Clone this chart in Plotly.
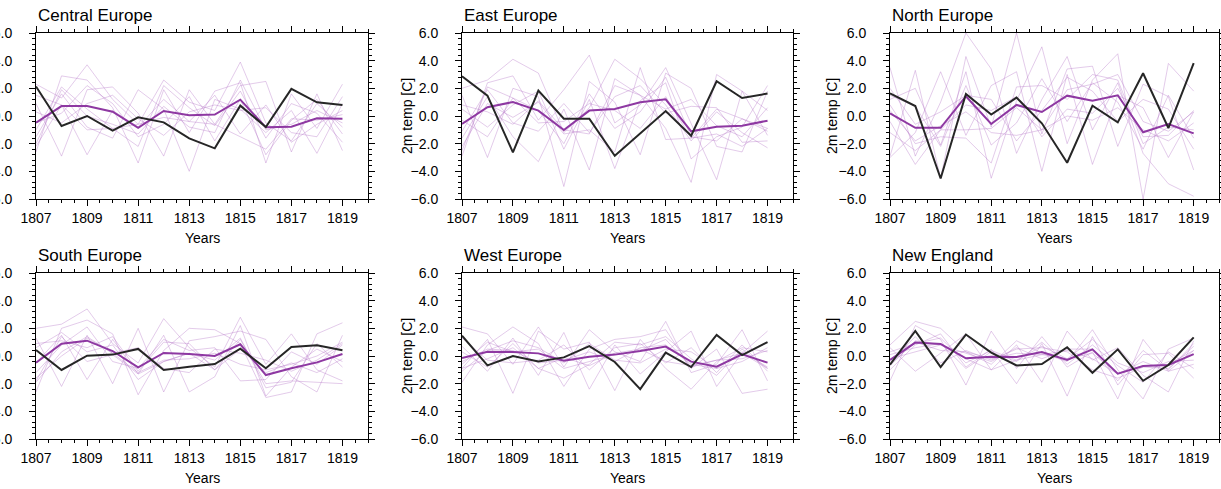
import plotly.graph_objects as go

years = list(range(1807, 1820))
region_names = ["Central Europe", "East Europe", "North Europe",
                "South Europe", "West Europe", "New England"]

# ---------------- Central Europe ----------------
ce_obs = [2.13, -0.72, 0.0, -1.06, -0.1, -0.46, -1.62, -2.34, 0.75, -0.8, 1.96, 0.99, 0.8]
ce_mean = [-0.48, 0.72, 0.72, 0.31, -0.85, 0.36, 0.05, 0.1, 1.18, -0.82, -0.77, -0.17, -0.19]
ce_members = [
    [2.3, 1.3, 3.7, 1.2, -0.6, 2.6, 1.0, 0.4, 3.9, -0.5, -1.8, 0.9, -0.8],
    [-2.6, 2.9, 2.6, 0.6, -3.4, 1.9, -1.2, 1.8, 2.4, -3.4, 1.6, -0.9, 2.3],
    [0.9, -2.9, 1.9, 2.1, 0.2, -2.9, 1.9, -0.6, 2.2, 2.5, -2.6, 1.6, -2.5],
    [-1.5, 1.6, -0.8, -1.6, 1.9, 0.5, -4.0, 1.2, 0.5, -1.2, 0.4, -2.7, 0.9],
    [-0.5, 0.2, 2.2, 0.9, -1.5, -0.6, 1.4, -1.8, 1.2, -2.8, -0.3, 1.2, -1.3],
    [1.5, 0.8, -2.8, 0.4, -0.8, 1.2, -0.4, 1.5, -1.3, 0.8, -1.9, -0.6, 0.4],
    [-1.0, 2.1, 0.5, -0.9, -2.2, 2.2, 0.6, -0.7, 1.8, -1.6, 0.9, 0.2, -1.9],
    [0.3, -0.5, 0.9, 1.5, -0.2, -1.4, 0.3, 0.8, 0.4, 0.6, -1.2, -1.5, 1.4],
    [-2.0, 1.9, 0.0, -0.6, -1.3, 0.7, -0.8, -1.2, 2.6, -1.0, -0.6, 0.4, -0.5],
    [-2.2, 0.8, -1.0, -0.9, -0.6, -0.1, -0.4, -0.6, -1.5, -2.4, -0.2, -0.3, 0.1],
]

# ---------------- East Europe ----------------
ee_obs = [2.87, 1.47, -2.63, 1.84, -0.19, -0.19, -2.87, -1.25, 0.36, -1.43, 2.51, 1.3, 1.62]
ee_mean = [-0.58, 0.63, 1.01, 0.39, -1.01, 0.39, 0.5, 0.99, 1.21, -1.11, -0.77, -0.7, -0.34]
ee_members = [
    [2.0, 2.6, 4.1, 3.1, -1.2, 0.6, 4.1, 2.7, 0.8, -1.8, 0.3, -1.2, -2.3],
    [-2.9, 2.4, 2.9, -0.3, 1.9, 4.4, -0.5, 0.8, 3.5, -0.6, -4.6, 1.8, 0.4],
    [1.5, -3.0, 2.0, 1.4, -5.1, 2.5, 1.0, -2.8, 3.1, 2.0, -2.2, -2.6, 1.8],
    [-1.6, 1.4, -1.5, -3.3, 0.5, -3.9, 2.7, 1.5, -0.9, -4.8, 3.0, 1.8, -1.4],
    [0.5, -0.8, 0.8, 1.8, -2.4, 1.2, -3.8, 1.1, 2.4, -3.1, -1.5, -0.8, 2.2],
    [-1.1, 1.9, -0.5, -1.1, 0.9, -1.2, 1.4, 2.2, 0.2, 0.7, 0.6, -1.9, -1.8],
    [-0.3, -1.5, 1.3, 0.4, -2.0, 1.6, -0.9, 0.3, 2.8, -1.5, -1.8, -0.2, -0.9],
    [0.8, 0.3, -0.6, 1.1, -1.0, -1.3, 2.2, 1.5, 0.5, 1.2, -0.7, -1.5, 0.6],
    [-2.5, 2.1, 1.3, -0.5, -0.4, 0.9, 0.4, -0.9, 1.4, -1.6, 0.5, -0.2, -1.1],
    [-2.2, 0.9, -0.1, 1.0, -1.3, -1.0, -2.6, 3.5, -1.7, -1.6, -1.3, -2.2, -0.9],
]

# ---------------- North Europe ----------------
ne_obs = [1.64, 0.72, -4.52, 1.59, 0.1, 1.33, -0.53, -3.38, 0.75, -0.46, 3.09, -0.87, 3.82]
ne_mean = [0.19, -0.85, -0.85, 1.43, -0.58, 0.8, 0.29, 1.47, 1.11, 1.5, -1.18, -0.58, -1.26]
ne_members = [
    [3.5, -2.9, 1.0, 6.0, 3.4, -2.7, 1.2, 4.3, -1.0, 2.4, -2.7, -4.9, -5.8],
    [-2.9, 3.3, -4.5, 4.3, -0.8, 6.0, -1.3, 3.4, 3.6, -2.2, 2.3, 1.4, -3.9],
    [1.2, 2.0, -2.1, 3.2, -4.5, 1.1, 5.0, -2.0, 2.6, 4.5, -6.0, 3.8, 1.8],
    [-3.0, -1.2, 3.2, -1.4, 2.2, 3.2, -4.0, 3.0, -3.5, 1.5, 0.6, -3.0, 0.3],
    [0.8, -2.0, -1.5, -1.6, -3.4, 2.1, 2.2, 1.2, 3.0, 2.6, -2.0, -0.8, -1.0],
    [2.0, -0.6, 0.3, 1.5, 1.2, -1.8, 0.4, 2.8, 1.8, -0.4, 1.2, 0.5, -2.4],
    [-1.2, -2.5, -1.0, 0.8, 0.4, 1.4, -1.5, 0.5, 0.2, 2.0, -1.5, -1.4, 0.4],
    [1.5, 0.7, -2.2, 2.2, -2.1, -0.5, 2.7, -0.4, 2.4, 1.0, -2.4, 1.5, -1.6],
    [0.4, -1.8, -0.7, 0.3, -1.2, -1.4, -1.0, 1.9, 2.3, 3.0, -0.4, -1.1, 0.3],
    [-0.4, -3.5, -1.0, -1.0, -0.9, 0.6, -1.0, 0.0, -0.3, 0.6, -1.0, -1.8, -0.5],
]

# ---------------- South Europe ----------------
se_obs = [0.43, -1.01, 0.02, 0.1, 0.51, -1.01, -0.77, -0.58, 0.53, -0.89, 0.65, 0.77, 0.41]
se_mean = [-0.48, 0.89, 1.11, 0.36, -0.82, 0.22, 0.14, 0.0, 0.85, -1.38, -0.89, -0.46, 0.14]
se_members = [
    [2.0, 2.3, 3.4, 0.9, -0.5, 2.7, 0.6, -0.8, 2.8, -0.6, 1.6, -1.0, -1.8],
    [-2.6, 2.0, 2.6, 1.6, -2.8, 0.4, 2.0, 1.9, 0.9, -3.0, -2.6, 1.6, 2.4],
    [1.3, -2.2, 1.5, -2.0, 2.0, -2.6, 1.1, 1.4, 1.8, 1.2, -1.5, -2.6, 1.5],
    [-0.5, 1.5, -1.7, 1.2, -1.3, 1.5, -2.6, -1.5, 2.2, -2.9, -0.8, 0.5, -0.4],
    [-1.2, 0.8, 2.1, -0.4, -0.9, 1.2, 0.4, 0.6, -1.8, -1.7, 0.3, -0.6, 0.8],
    [0.6, 1.7, 0.3, 0.8, -1.7, -0.4, 0.2, -0.3, 1.3, -2.3, -1.9, 0.9, -0.8],
    [-1.9, 0.3, 1.4, 0.2, 0.6, -0.9, -1.2, 0.5, 0.2, -0.3, -1.1, -0.3, 0.9],
    [0.9, 1.1, 0.6, 1.4, -1.1, 1.0, 0.9, -1.0, 0.5, -1.2, -0.5, -1.2, -0.2],
    [-1.6, 0.0, 1.3, 0.2, -1.2, -0.3, -0.2, 0.2, -0.6, -1.0, -0.6, 0.0, 1.0],
    [-1.8, 1.4, -0.4, 0.1, -1.3, -0.4, 0.2, -1.0, 1.2, -2.0, -1.8, -1.9, -2.0],
]

# ---------------- West Europe ----------------
we_obs = [1.47, -0.68, 0.0, -0.39, -0.1, 0.72, -0.43, -2.39, 0.24, -0.8, 1.52, 0.07, 1.01]
we_mean = [-0.14, 0.31, 0.29, 0.19, -0.34, -0.05, 0.1, 0.36, 0.68, -0.41, -0.77, 0.12, -0.48]
we_members = [
    [2.1, 1.6, -0.6, 2.1, -0.8, 1.9, 0.3, -0.4, 2.5, -1.2, -0.6, 1.9, -1.8],
    [-1.9, 0.8, 2.1, 0.9, -2.2, 0.5, 1.2, 1.4, 1.9, -0.9, 0.5, -2.7, -2.4],
    [0.7, -1.1, 1.3, -1.4, 1.7, -2.4, 0.8, -1.3, 0.3, 1.8, -2.2, 0.2, 1.8],
    [-0.9, 1.2, -2.7, 1.8, 0.5, 1.0, -2.5, 1.2, -0.9, -2.4, -0.4, 0.6, 0.3],
    [0.3, -0.8, 0.9, -0.9, -1.6, -0.6, 1.0, 0.8, 1.4, -0.2, -1.4, 0.5, -0.9],
    [-1.1, 0.4, 1.1, 0.6, -0.5, 0.9, -0.3, -0.5, 0.5, 0.3, -0.9, -0.4, 0.6],
    [1.3, -0.3, -0.5, -0.3, 0.8, -1.0, 0.6, 0.9, -0.5, 0.6, -1.2, 0.8, -1.1],
    [-0.6, 1.0, 0.3, 0.5, -0.9, -0.4, 0.1, 0.4, 1.2, -0.8, -0.3, -0.2, 0.4],
    [-0.4, 0.5, 0.4, -0.5, -0.3, 0.3, -0.4, 0.6, 0.8, -0.6, -0.9, 0.3, -0.8],
    [-0.9, -0.2, 0.6, -0.9, -0.1, -0.7, 0.2, 0.5, -0.4, -0.7, -0.3, 0.2, -0.9],
]

# ---------------- New England ----------------
ng_obs = [-0.63, 1.81, -0.8, 1.55, 0.24, -0.68, -0.58, 0.63, -1.21, 0.48, -1.79, -0.65, 1.35]
ng_mean = [-0.29, 0.97, 0.87, -0.17, -0.05, -0.07, 0.29, -0.29, 0.48, -1.28, -0.72, -0.65, 0.14]
ng_members = [
    [0.8, 2.5, 2.0, 0.3, -0.6, 1.1, 0.2, -0.4, 1.9, -1.0, -3.1, 0.5, 1.3],
    [-1.8, 2.2, 1.2, -2.1, 1.8, -0.9, 1.4, -0.8, 0.3, -3.1, 1.2, -1.1, -0.6],
    [0.6, -1.1, 0.2, 1.6, -1.0, 0.8, -1.9, 1.8, -0.3, 0.6, -1.4, -2.6, 1.1],
    [-1.0, 0.8, 1.6, -0.8, 0.5, -2.0, 0.9, -2.9, 1.4, -2.1, 0.1, 0.2, -1.6],
    [-0.4, 1.4, -0.5, 0.4, -0.3, 0.5, 0.6, 0.3, -1.0, -1.6, -0.8, -0.9, 0.7],
    [0.3, 0.9, 1.3, -0.5, 0.4, -0.3, 0.7, -0.2, 1.2, -0.5, -1.2, -0.4, -0.3],
    [-0.7, 1.1, 0.8, 0.2, -0.4, 0.6, -0.2, 0.5, 0.5, -1.8, 0.4, -1.0, 0.9],
    [0.1, 0.6, 0.9, -0.9, 0.3, -0.4, 1.0, -0.6, 0.8, -0.7, -1.9, 0.3, -0.9],
    [-0.6, 1.0, 0.4, 0.3, -0.2, 0.2, 0.1, 0.4, -0.2, -1.3, -0.7, -0.6, 0.4],
    [-0.2, 0.3, 0.8, -0.2, -1.0, -0.3, 0.1, -0.2, 0.2, -1.3, -0.4, -1.1, 0.4],
]

obs_list = [ce_obs, ee_obs, ne_obs, se_obs, we_obs, ng_obs]
mean_list = [ce_mean, ee_mean, ne_mean, se_mean, we_mean, ng_mean]
members_list = [ce_members, ee_members, ne_members, se_members, we_members, ng_members]

x_ticks = years[::2]
y_ticks = [-6, -4, -2, 0, 2, 4, 6]
y_title = "2m temp [C]"
x_title = "Years"

# ---------------- layout geometry (pixels) ----------------
W, H = 1221, 489
col_px = [(36, 368), (462, 793), (890, 1219)]
row_px = [(33, 199), (273, 439)]
title_y_px = [15, 255]
xtitle_y_px = [238, 478]
ytitle_x_px = [-19, 407, 832]

FONT = "Liberation Sans, Arial, Helvetica, sans-serif"
MEMBER_COLOR = "rgba(180,118,200,0.42)"
MEAN_COLOR = "rgb(142,56,162)"
OBS_COLOR = "#262626"

fig = go.Figure()
annotations = []
layout_axes = {}

for i, name in enumerate(region_names):
    r, c = divmod(i, 3)
    n = i + 1
    xref = "x" if n == 1 else f"x{n}"
    yref = "y" if n == 1 else f"y{n}"
    xkey = "xaxis" if n == 1 else f"xaxis{n}"
    ykey = "yaxis" if n == 1 else f"yaxis{n}"

    for mem in members_list[i]:
        fig.add_trace(go.Scatter(x=years, y=mem, mode="lines", xaxis=xref, yaxis=yref,
                                 line=dict(color=MEMBER_COLOR, width=0.9),
                                 showlegend=False, hoverinfo="skip"))
    fig.add_trace(go.Scatter(x=years, y=mean_list[i], mode="lines", xaxis=xref, yaxis=yref,
                             line=dict(color=MEAN_COLOR, width=2), showlegend=False))
    fig.add_trace(go.Scatter(x=years, y=obs_list[i], mode="lines", xaxis=xref, yaxis=yref,
                             line=dict(color=OBS_COLOR, width=2), showlegend=False))

    x0, x1 = col_px[c]
    y0, y1 = row_px[r]
    common = dict(showline=True, linecolor="black", linewidth=1, mirror="ticks",
                  ticks="outside", tickcolor="black", tickwidth=1, ticklen=6,
                  showgrid=False, zeroline=False, automargin=False,
                  tickfont=dict(family=FONT, size=14, color="black"))
    layout_axes[xkey] = dict(common, domain=[x0 / W, x1 / W], range=[1807, 1820],
                             tickvals=x_ticks, anchor=yref,
                             minor=dict(tick0=1807, dtick=0.5, ticks="outside",
                                        ticklen=3, tickcolor="black", tickwidth=1))
    layout_axes[ykey] = dict(common, domain=[1 - y1 / H, 1 - y0 / H], range=[-6, 6],
                             tickvals=y_ticks, tickformat=".1f", anchor=xref,
                             ticklabelstandoff=14,
                             minor=dict(tick0=-6, dtick=0.4, ticks="outside",
                                        ticklen=3, tickcolor="black", tickwidth=1))

    annotations.append(dict(text=name, xref="paper", yref="paper",
                            x=x0 / W, y=1 - title_y_px[r] / H, xanchor="left",
                            yanchor="middle", showarrow=False,
                            font=dict(family=FONT, size=17, color="black")))
    annotations.append(dict(text=x_title, xref="paper", yref="paper",
                            x=(x0 + x1) / 2 / W, y=1 - xtitle_y_px[r] / H,
                            xanchor="center", yanchor="middle", showarrow=False,
                            font=dict(family=FONT, size=14, color="black")))
    if c > 0:
        annotations.append(dict(text=y_title, xref="paper", yref="paper",
                                x=ytitle_x_px[c] / W, y=1 - (y0 + y1) / 2 / H,
                                xanchor="center", yanchor="middle", textangle=-90,
                                showarrow=False,
                                font=dict(family=FONT, size=14, color="black")))

fig.update_layout(width=W, height=H, margin=dict(l=0, r=0, t=0, b=0),
                  paper_bgcolor="white", plot_bgcolor="white",
                  annotations=annotations, showlegend=False,
                  font=dict(family=FONT, size=14, color="black"), **layout_axes)

fig.write_html("out.html", config={"displayModeBar": False},
               post_script="document.body.style.margin='0';document.body.style.padding='0';")
